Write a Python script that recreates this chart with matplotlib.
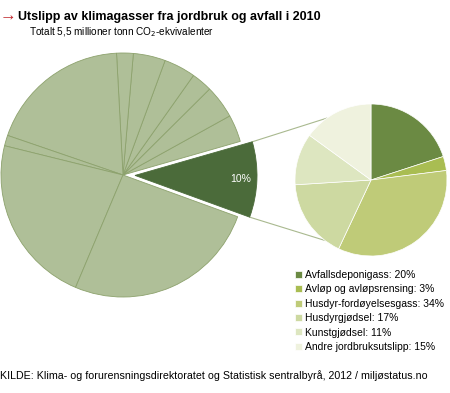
import numpy as np
import matplotlib
matplotlib.use("Agg")
import matplotlib.pyplot as plt

plt.rcParams['font.family'] = ['Liberation Sans', 'DejaVu Sans']

# big pie: agriculture + waste share first, then the other sectors (counter-clockwise)
big_values = [10, 3.6, 4.4, 2.75, 4.2, 4.25, 2.2, 18.9, 1.4, 22.5, 25.8]

# small pie breakdown of the 10 %
parts = ["Avfallsdeponigass", "Avløp og avløpsrensing", "Husdyr-fordøyelsesgass",
         "Husdyrgjødsel", "Kunstgjødsel", "Andre jordbruksutslipp"]
part_values = [20, 3, 34, 17, 11, 15]
part_colors = ["#6b8a43", "#a9bd52", "#bfcb78", "#cdd9a1", "#dde6c0", "#eff2de"]

W, H = 450, 393
fig = plt.figure(figsize=(W / 100, H / 100), dpi=100)
ax = fig.add_axes([0, 0, 1, 1])

big_colors = ["#4b6b3a"] + ["#afbf98"] * (len(big_values) - 1)
explode = [12] + [0] * (len(big_values) - 1)   # pie explode is in data units here
big_wedges, _ = ax.pie(big_values, colors=big_colors, explode=explode,
                       startangle=-20, counterclock=True,
                       center=(123, 218), radius=122, frame=True,
                       wedgeprops=dict(edgecolor="#8da26d", linewidth=0.6))
big_wedges[0].set_edgecolor("#4b6b3a")

small_wedges, _ = ax.pie(part_values, colors=part_colors,
                         startangle=90, counterclock=False,
                         center=(371, 213), radius=76, frame=True,
                         wedgeprops=dict(edgecolor="white", linewidth=0.5))
ax.set_xlim(0, W)
ax.set_ylim(0, H)
ax.set_aspect('equal')
ax.axis('off')

# label on the exploded wedge
w0 = big_wedges[0]
mid = np.deg2rad((w0.theta1 + w0.theta2) / 2)
cx, cy = w0.center
ax.text(cx + 0.87 * w0.r * np.cos(mid), cy + 0.87 * w0.r * np.sin(mid), "10%",
        color="white", fontsize=7.5, ha="center", va="center")

# connector lines from wedge corners to small pie
scx, scy = small_wedges[0].center
sr = small_wedges[0].r
for theta, target in [(w0.theta2, 125.5), (w0.theta1, 232.7)]:
    t = np.deg2rad(theta)
    x0, y0 = cx + w0.r * np.cos(t), cy + w0.r * np.sin(t)
    tt = np.deg2rad(target)
    x1, y1 = scx + sr * np.cos(tt), scy + sr * np.sin(tt)
    ax.plot([x0, x1], [y0, y1], color="#a9b98f", linewidth=0.8, zorder=0)

labels = [f"{n}: {v}%" for n, v in zip(parts, part_values)]
fig.legend(small_wedges, labels, loc="upper left",
           bbox_to_anchor=(295 / W, 1 - 270 / H), frameon=False,
           fontsize=7.5, handlelength=0.65, handleheight=0.65,
           handletextpad=0.3, labelspacing=0.42, borderpad=0, borderaxespad=0)

fig.text(0, 1 - 16 / H, "\u2192", color="#c0282d", fontsize=12, va="center",
         fontweight="bold")
fig.text(18 / W, 1 - 17 / H, "Utslipp av klimagasser fra jordbruk og avfall i 2010",
         fontsize=9, fontweight="bold", va="center")
fig.text(29 / W, 1 - 32 / H, "Totalt 5,5 millioner tonn CO$_2$-ekvivalenter",
         fontsize=7.2, va="center")
fig.text(0, 1 - 376 / H,
         "KILDE: Klima- og forurensningsdirektoratet og Statistisk sentralbyrå, 2012 / miljøstatus.no",
         fontsize=7.7, va="center")

fig.savefig("out.png", dpi=100)
